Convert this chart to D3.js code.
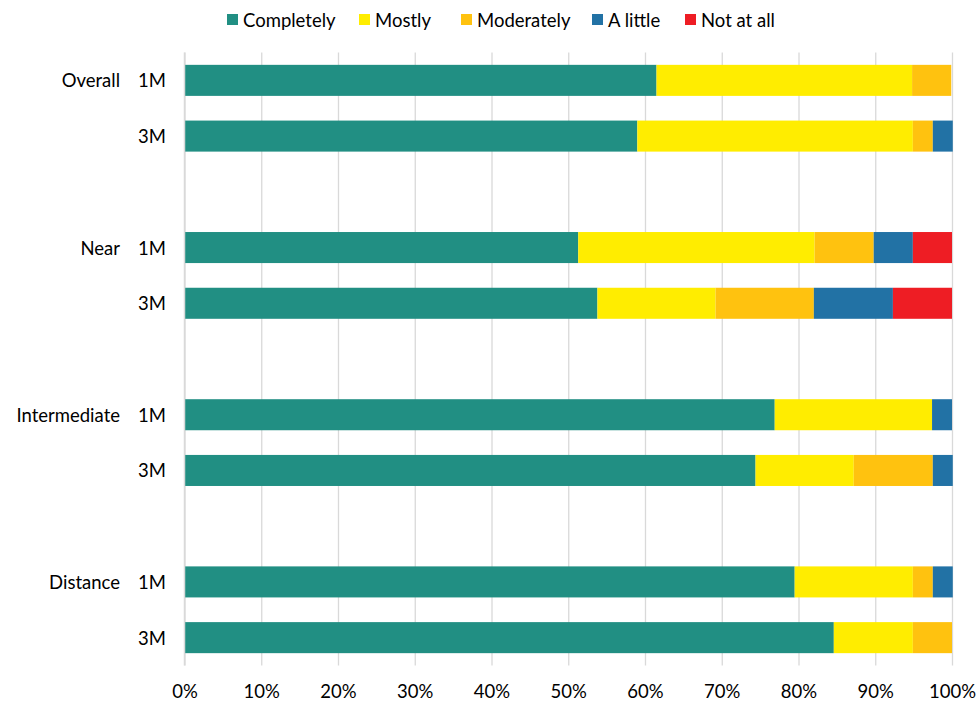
<!DOCTYPE html>
<html>
<head>
<meta charset="utf-8">
<script src="https://cdn.jsdelivr.net/npm/d3@7"></script>
<style>
  html, body { margin: 0; padding: 0; background: #fff; }
  svg { display: block; }
  text { font-family: Lato, "Open Sans", sans-serif; fill: #000; }
</style>
</head>
<body>
<div id="chart"></div>
<script>
// ---- data ----
const groups = ["Overall", "Near", "Intermediate", "Distance"];
const timepoints = ["1M", "3M"];
const seriesNames = ["Completely", "Mostly", "Moderately", "A little", "Not at all"];
const seriesColors = ["#218F83", "#FFED00", "#FFC20F", "#2272A5", "#EE1D24"];
// rows in order: Overall 1M, Overall 3M, Near 1M, Near 3M, Intermediate 1M, Intermediate 3M, Distance 1M, Distance 3M
const completely = [61.5, 59.0, 51.3, 53.8, 76.9, 74.4, 79.5, 84.6];
const mostly     = [33.3, 35.9, 30.8, 15.4, 20.5, 12.8, 15.4, 10.3];
const moderately = [5.1, 2.6, 7.7, 12.8, 0, 10.3, 2.6, 5.1];
const aLittle    = [0, 2.6, 5.1, 10.3, 2.6, 2.6, 2.6, 0];
const notAtAll   = [0, 0, 5.1, 7.7, 0, 0, 0, 0];
const xTicks = [0, 10, 20, 30, 40, 50, 60, 70, 80, 90, 100];

// ---- build table ----
const seriesValues = [completely, mostly, moderately, aLittle, notAtAll];
const rows = [];
groups.forEach((g, gi) => {
  timepoints.forEach((t, ti) => {
    const idx = gi * timepoints.length + ti;
    const r = { key: g + "|" + t, group: g, time: t, first: ti === 0 };
    seriesNames.forEach((s, si) => { r[s] = seriesValues[si][idx]; });
    rows.push(r);
  });
});
// slot domain with spacer slots between groups
const slots = [];
groups.forEach((g, gi) => {
  timepoints.forEach(t => slots.push(g + "|" + t));
  if (gi < groups.length - 1) slots.push("gap" + gi);
});

const W = 979, H = 702;
const FS = "18.5px";
const svg = d3.select("#chart").append("svg").attr("width", W).attr("height", H);

const plot = { left: 184.5, right: 952, top: 52.5, bottom: 665.5 };

const x = d3.scaleLinear().domain([0, 100]).range([plot.left, plot.right]);
const y = d3.scaleBand().domain(slots).range([plot.top, plot.bottom])
  .paddingInner(0.443).paddingOuter(0.2215);

// gridlines + tick labels
const axis = d3.axisBottom(x).tickValues(xTicks).tickFormat(d => d + "%")
  .tickSize(plot.bottom - plot.top).tickPadding(0);
const ax = svg.append("g").attr("transform", `translate(0,${plot.top})`).call(axis);
ax.select(".domain").remove();
ax.selectAll(".tick line").attr("stroke", "#d9d9d9").attr("stroke-width", 1.3);
ax.selectAll(".tick text")
  .attr("y", 638.5).attr("dy", null)
  .attr("dominant-baseline", "central")
  .style("font-size", FS).style("font-family", "Lato, sans-serif").attr("fill", "#000");

// stacked bars
const stack = d3.stack().keys(seriesNames);
const stacked = stack(rows);
const color = d3.scaleOrdinal().domain(seriesNames).range(seriesColors);

svg.append("g").selectAll("g").data(stacked).join("g")
  .attr("fill", d => color(d.key))
  .selectAll("rect").data(d => d.filter(p => p[1] - p[0] > 0)).join("rect")
  .attr("x", d => x(d[0]))
  .attr("width", d => x(d[1]) - x(d[0]))
  .attr("y", d => y(d.data.key))
  .attr("height", y.bandwidth());

// zero axis line
svg.append("line")
  .attr("x1", x(0)).attr("x2", x(0)).attr("y1", plot.top).attr("y2", plot.bottom)
  .attr("stroke", "#d9d9d9").attr("stroke-width", 1.5);

// category labels
const lab = svg.append("g");
rows.forEach(r => {
  const cy = y(r.key) + y.bandwidth() / 2;
  lab.append("text").attr("x", 166).attr("y", cy)
    .attr("text-anchor", "end").attr("dominant-baseline", "central")
    .style("font-size", FS).text(r.time);
  if (r.first) {
    lab.append("text").attr("x", 120).attr("y", cy)
      .attr("text-anchor", "end").attr("dominant-baseline", "central")
      .style("font-size", FS).text(r.group);
  }
});

// legend
const legendX = [227, 359, 461, 592, 685];
const leg = svg.append("g");
seriesNames.forEach((s, i) => {
  const g = leg.append("g").attr("transform", `translate(${legendX[i]},0)`);
  g.append("rect").attr("x", 0).attr("y", 14).attr("width", 11).attr("height", 11).attr("fill", color(s));
  g.append("text").attr("x", 16).attr("y", 19.5).attr("dominant-baseline", "central")
    .style("font-size", FS).text(s);
});
</script>
</body>
</html>
